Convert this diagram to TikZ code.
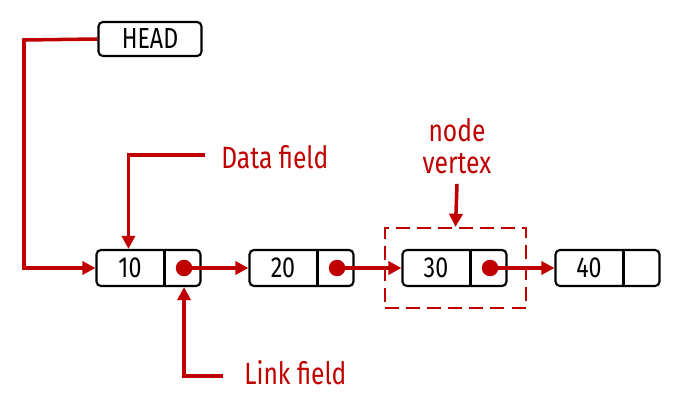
\documentclass[tikz,border=0pt]{standalone}
\usepackage{fontspec}
\setmainfont{Fira Sans}[FakeStretch=0.8]
\usetikzlibrary{arrows.meta,positioning,calc}
\definecolor{LinkRed}{HTML}{C00000}

\tikzset{
  cell/.style={draw,line width=1.2pt,rounded corners=2.5pt,minimum width=2.08cm,
               minimum height=0.72cm,inner sep=0pt},
  celltext/.style={font=\fontsize{16.5}{18}\selectfont,inner sep=0pt},
  link/.style={LinkRed,line width=2pt,-{Triangle[length=7.5pt,width=7.5pt]}},
  note/.style={LinkRed,font=\fontsize{17.5}{20}\selectfont,inner sep=0pt}
}

\begin{document}
\begin{tikzpicture}[x=0.02cm,y=-0.02cm]
  \useasboundingbox (0,0) rectangle (675,408);

  % list cells
  \foreach \v [count=\i] in {10,20,30,40} {
    \node[cell] (n\i) at ({148.5+153*(\i-1)},268) {};
    \node[celltext] (d\i) at ($(n\i.west)+(34.5,0)$) {\v};
    \coordinate (s\i) at ($(n\i.west)+(69,0)$);
    \draw[line width=1.2pt] (s\i |- n\i.north) -- (s\i |- n\i.south);
    \coordinate (p\i) at ($(n\i.east)+(-17.5,0)$);
  }
  \foreach \i in {1,2,3}
    \fill[LinkRed] (p\i) circle (0.165cm);

  % next links
  \draw[link] (p1) -- (n2.west);
  \draw[link] (p2) -- (n3.west);
  \draw[link] (p3) -- (n4.west);

  % head pointer
  \node[cell,minimum width=2.06cm,minimum height=0.68cm,celltext] (head) at (150,39) {HEAD};
  \coordinate (bend) at (24,40);
  \draw[link] (head.west) -- (bend) |- (n1.west);

  % node vertex
  \node[draw=LinkRed,line width=1.2pt,dash pattern=on 8pt off 4pt,
        minimum width=2.82cm,minimum height=1.6cm] (vbox) at (455.5,268) {};
  \node[note,align=center] (vlabel) at (457,146) {node\\[-2pt]vertex};
  \draw[link] ($(vlabel.south)+(0,10)$) coordinate (vtop) -- (vbox.north);

  % field labels
  \node[note,anchor=west] (dlabel) at (221,157) {Data field};
  \draw[link] ($(dlabel.west)+(-16,-2)$) coordinate (dstart) -| ($(n1.north west)+(33,0)$) coordinate (dend);
  \node[note,anchor=west] (llabel) at (244,373) {Link field};
  \draw[link] ($(llabel.west)+(-21,3)$) coordinate (lstart) -| (p1 |- n1.south);
\end{tikzpicture}
\end{document}
